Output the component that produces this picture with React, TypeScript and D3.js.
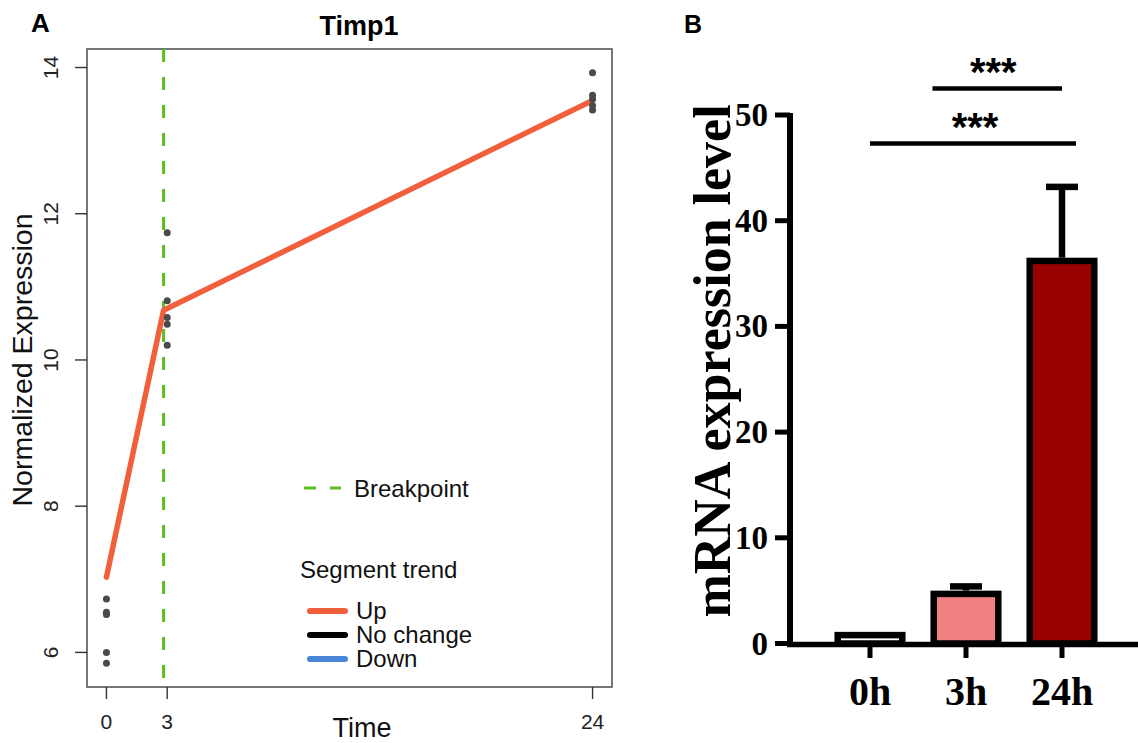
import React, { useEffect, useRef } from 'react';
import * as d3 from 'd3';

// Panel A: segmented regression of Timp1
const timeTicks = [0, 3, 24];
const exprTicks = [6, 8, 10, 12, 14];
const obsTime = [0, 0, 0, 0, 0, 3, 3, 3, 3, 3, 24, 24, 24, 24, 24];
const obsExpr = [6.73, 6.55, 6.52, 6.0, 5.85, 11.74, 10.81, 10.58, 10.49, 10.2, 13.93, 13.62, 13.57, 13.48, 13.42];
const breakpoint = 2.82;
const fitTime = [0, 2.82, 24];
const fitExpr = [7.03, 10.68, 13.55];
const trendLabels = ['Up', 'No change', 'Down'];

// Panel B: qPCR bars
const groups = ['0h', '3h', '24h'];
const meanLevel = [1.1, 5.0, 36.5];
const semLevel = [0, 0.4, 6.7];
const levelTicks = [0, 10, 20, 30, 40, 50];
const sigFrom = ['3h', '0h'];
const sigTo = ['24h', '24h'];
const sigLevel = [52.5, 47.3];
const sigLabel = ['***', '***'];

const trendColor: Record<string, string> = { Up: '#f25f3c', 'No change': '#000000', Down: '#4a86d8' };
const barFill: Record<string, string> = { '0h': '#ffffff', '3h': '#f28080', '24h': '#9b0000' };

const SANS = '"Liberation Sans", Arial, Helvetica, sans-serif';
const SERIF = '"Liberation Serif", "Times New Roman", serif';

const App = () => {
  const svgRef = useRef<SVGSVGElement>(null);

  useEffect(() => {
    const svg = d3.select(svgRef.current);
    svg.selectAll('*').remove();

    // ---------- Panel A ----------
    const a = svg.append('g');
    const tExt = d3.extent(obsTime) as [number, number];
    const eExt = d3.extent(obsExpr) as [number, number];
    const tPad = (tExt[1] - tExt[0]) * 0.04;
    const ePad = (eExt[1] - eExt[0]) * 0.04;
    const x = d3.scaleLinear().domain([tExt[0] - tPad, tExt[1] + tPad]).range([87, 612]);
    const y = d3.scaleLinear().domain([eExt[0] - ePad, eExt[1] + ePad]).range([687, 49]);

    a.append('rect')
      .attr('x', x.range()[0])
      .attr('y', y.range()[1])
      .attr('width', x.range()[1] - x.range()[0])
      .attr('height', y.range()[0] - y.range()[1])
      .attr('fill', 'none')
      .attr('stroke', '#555')
      .attr('stroke-width', 1.6);

    // x ticks
    a.selectAll('line.xt')
      .data(timeTicks)
      .join('line')
      .attr('x1', (d) => x(d))
      .attr('x2', (d) => x(d))
      .attr('y1', 687)
      .attr('y2', 699)
      .attr('stroke', '#333')
      .attr('stroke-width', 1.4);
    a.selectAll('text.xt')
      .data(timeTicks)
      .join('text')
      .attr('x', (d) => x(d))
      .attr('y', 729)
      .attr('text-anchor', 'middle')
      .attr('font-family', SANS)
      .attr('font-size', 21)
      .attr('fill', '#222')
      .text((d) => d);

    // y ticks
    a.selectAll('line.yt')
      .data(exprTicks)
      .join('line')
      .attr('x1', 75)
      .attr('x2', 87)
      .attr('y1', (d) => y(d))
      .attr('y2', (d) => y(d))
      .attr('stroke', '#333')
      .attr('stroke-width', 1.4);
    a.selectAll('text.yt')
      .data(exprTicks)
      .join('text')
      .attr('transform', (d) => `translate(58,${y(d)}) rotate(-90)`)
      .attr('text-anchor', 'middle')
      .attr('font-family', SANS)
      .attr('font-size', 21)
      .attr('fill', '#222')
      .text((d) => d);

    // breakpoint
    a.append('line')
      .attr('x1', x(breakpoint))
      .attr('x2', x(breakpoint))
      .attr('y1', y.range()[1])
      .attr('y2', y.range()[0])
      .attr('stroke', '#5cbf1e')
      .attr('stroke-width', 3)
      .attr('stroke-dasharray', '13 15');

    // fitted segments
    const line = d3
      .line<number>()
      .x((_, i) => x(fitTime[i]))
      .y((d) => y(d));
    a.append('path')
      .attr('d', line(fitExpr))
      .attr('fill', 'none')
      .attr('stroke', trendColor.Up)
      .attr('stroke-width', 5.5)
      .attr('stroke-linecap', 'round')
      .attr('stroke-linejoin', 'round');

    // observations
    a.selectAll('circle')
      .data(obsExpr)
      .join('circle')
      .attr('cx', (_, i) => x(obsTime[i]))
      .attr('cy', (d) => y(d))
      .attr('r', 3.5)
      .attr('fill', '#4a4a4a');

    // legend
    a.append('line')
      .attr('x1', 304)
      .attr('x2', 341)
      .attr('y1', 488)
      .attr('y2', 488)
      .attr('stroke', '#5cbf1e')
      .attr('stroke-width', 3)
      .attr('stroke-dasharray', '12 14');
    a.append('text')
      .attr('x', 354)
      .attr('y', 497)
      .attr('font-family', SANS)
      .attr('font-size', 24)
      .attr('fill', '#111')
      .text('Breakpoint');
    a.append('text')
      .attr('x', 300)
      .attr('y', 578)
      .attr('font-family', SANS)
      .attr('font-size', 24)
      .attr('fill', '#111')
      .text('Segment trend');
    trendLabels.forEach((lab, i) => {
      const ly = 611 + i * 24;
      a.append('line')
        .attr('x1', 310)
        .attr('x2', 345)
        .attr('y1', ly)
        .attr('y2', ly)
        .attr('stroke', trendColor[lab])
        .attr('stroke-width', 6)
        .attr('stroke-linecap', 'round');
      a.append('text')
        .attr('x', 356)
        .attr('y', ly + 8)
        .attr('font-family', SANS)
        .attr('font-size', 24)
        .attr('fill', '#111')
        .text(lab);
    });

    // titles
    a.append('text')
      .attr('x', 359)
      .attr('y', 35)
      .attr('text-anchor', 'middle')
      .attr('font-family', SANS)
      .attr('font-weight', 'bold')
      .attr('font-size', 27)
      .text('Timp1');
    a.append('text')
      .attr('x', 362)
      .attr('y', 737)
      .attr('text-anchor', 'middle')
      .attr('font-family', SANS)
      .attr('font-size', 27)
      .attr('fill', '#111')
      .text('Time');
    a.append('text')
      .attr('transform', `translate(32,360) rotate(-90)`)
      .attr('text-anchor', 'middle')
      .attr('font-family', SANS)
      .attr('font-size', 28.5)
      .attr('fill', '#111')
      .text('Normalized Expression');
    a.append('text')
      .attr('x', 31)
      .attr('y', 32)
      .attr('font-family', SANS)
      .attr('font-weight', 'bold')
      .attr('font-size', 26)
      .text('A');

    // ---------- Panel B ----------
    const b = svg.append('g');
    const bx = d3.scaleBand<string>().domain(groups).range([822, 1110]).paddingInner(0.26).paddingOuter(0.13);
    const by = d3.scaleLinear().domain([0, 50]).range([643.5, 115]);
    const sw = 6.5;

    levelTicks.forEach((t) => {
      b.append('line')
        .attr('x1', 775)
        .attr('x2', 790)
        .attr('y1', by(t))
        .attr('y2', by(t))
        .attr('stroke', '#000')
        .attr('stroke-width', 5);
    });
    b.selectAll('text.yt')
      .data(levelTicks)
      .join('text')
      .attr('x', 768)
      .attr('y', (d) => by(d) + 11)
      .attr('text-anchor', 'end')
      .attr('font-family', SERIF)
      .attr('font-weight', 'bold')
      .attr('font-size', 33)
      .text((d) => d);

    // bars
    groups.forEach((g, i) => {
      const x0 = bx(g)!;
      const w = bx.bandwidth();
      const top = by(meanLevel[i]);
      const cx = x0 + w / 2;
      if (semLevel[i] > 0) {
        const et = by(meanLevel[i] + semLevel[i]);
        b.append('line')
          .attr('x1', cx)
          .attr('x2', cx)
          .attr('y1', top)
          .attr('y2', et)
          .attr('stroke', '#000')
          .attr('stroke-width', sw);
        b.append('line')
          .attr('x1', cx - 16)
          .attr('x2', cx + 16)
          .attr('y1', et)
          .attr('y2', et)
          .attr('stroke', '#000')
          .attr('stroke-width', sw);
      }
      b.append('rect')
        .attr('x', x0 + sw / 2)
        .attr('y', top + sw / 2)
        .attr('width', w - sw)
        .attr('height', Math.max(0, by(0) - top - sw / 2))
        .attr('fill', barFill[g])
        .attr('stroke', '#000')
        .attr('stroke-width', sw);
      b.append('line')
        .attr('x1', cx)
        .attr('x2', cx)
        .attr('y1', by(0))
        .attr('y2', 658)
        .attr('stroke', '#000')
        .attr('stroke-width', 5);
    });

    // axes
    b.append('line')
      .attr('x1', 790)
      .attr('x2', 790)
      .attr('y1', by(50) - 2)
      .attr('y2', by(0) + 3)
      .attr('stroke', '#000')
      .attr('stroke-width', 6);
    b.append('line')
      .attr('x1', 787)
      .attr('x2', 1138)
      .attr('y1', by(0) + 1)
      .attr('y2', by(0) + 1)
      .attr('stroke', '#000')
      .attr('stroke-width', 5.5);

    b.selectAll('text.xt')
      .data(groups)
      .join('text')
      .attr('x', (d) => bx(d)! + bx.bandwidth() / 2)
      .attr('y', 705)
      .attr('text-anchor', 'middle')
      .attr('font-family', SERIF)
      .attr('font-weight', 'bold')
      .attr('font-size', 40)
      .text((d) => d);

    // significance
    sigLabel.forEach((lab, i) => {
      const ly = by(sigLevel[i]);
      const xs = i === 0 ? bx(sigFrom[i])! + 2 : bx(sigFrom[i])! + bx.bandwidth() / 2;
      const xe = bx(sigTo[i])! + bx.bandwidth() / 2 + (i === 0 ? 0 : 14);
      b.append('line')
        .attr('x1', xs)
        .attr('x2', xe)
        .attr('y1', ly)
        .attr('y2', ly)
        .attr('stroke', '#000')
        .attr('stroke-width', 4.5);
      b.append('text')
        .attr('x', i === 0 ? (xs + xe) / 2 - 4 : (xs + xe) / 2 + 2)
        .attr('y', ly - 3)
        .attr('text-anchor', 'middle')
        .attr('font-family', SANS)
        .attr('font-weight', 'bold')
        .attr('font-size', 40)
        .text(lab);
    });

    b.append('text')
      .attr('transform', `translate(730,361) rotate(-90)`)
      .attr('text-anchor', 'middle')
      .attr('font-family', SERIF)
      .attr('font-weight', 'bold')
      .attr('font-size', 52)
      .text('mRNA expression level');
    b.append('text')
      .attr('x', 684)
      .attr('y', 33)
      .attr('font-family', SANS)
      .attr('font-weight', 'bold')
      .attr('font-size', 25)
      .text('B');
  }, []);

  return (
    <svg
      ref={svgRef}
      width={1138}
      height={743}
      viewBox="0 0 1138 743"
      style={{ position: 'absolute', left: 0, top: 0, background: '#fff' }}
    />
  );
};

export default App;
